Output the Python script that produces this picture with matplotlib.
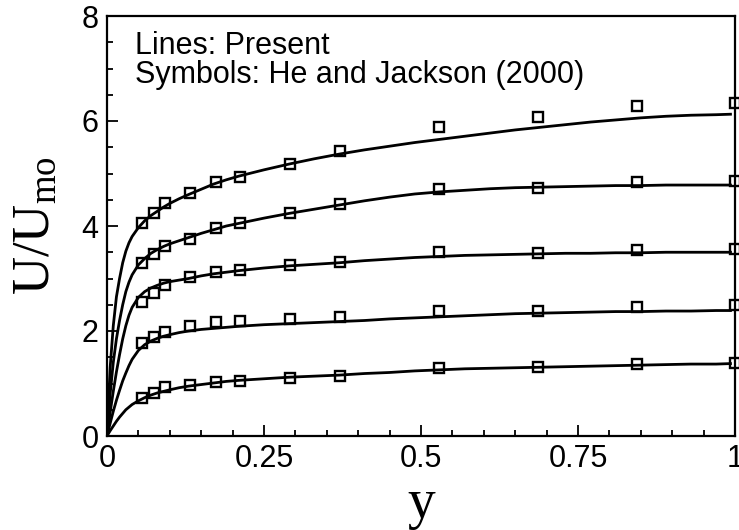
import matplotlib
matplotlib.use("Agg")
import matplotlib.pyplot as plt
from matplotlib.ticker import MultipleLocator, FuncFormatter

# ---- data -------------------------------------------------------------
# experimental (He and Jackson, 2000) radial positions
x_exp = [0.055, 0.075, 0.093, 0.132, 0.173, 0.212, 0.292, 0.371, 0.529, 0.686, 0.844, 1.0]
exp1 = [0.72, 0.81, 0.93, 0.97, 1.02, 1.05, 1.11, 1.14, 1.29, 1.32, 1.37, 1.40]
exp2 = [1.77, 1.89, 1.99, 2.10, 2.17, 2.19, 2.23, 2.27, 2.39, 2.39, 2.46, 2.50]
exp3 = [2.56, 2.73, 2.88, 3.02, 3.13, 3.17, 3.26, 3.31, 3.50, 3.48, 3.54, 3.56]
exp4 = [3.29, 3.47, 3.61, 3.75, 3.96, 4.06, 4.24, 4.42, 4.70, 4.73, 4.84, 4.86]
exp5 = [4.06, 4.24, 4.43, 4.62, 4.84, 4.94, 5.19, 5.42, 5.89, 6.07, 6.29, 6.35]

# present computation (lines)
x_line = [0, 0.005, 0.01, 0.015, 0.02, 0.025, 0.03, 0.035, 0.04, 0.05, 0.06, 0.07,
          0.08, 0.09, 0.1, 0.115, 0.13, 0.15, 0.17, 0.19, 0.21, 0.25, 0.29, 0.33,
          0.37, 0.41, 0.45, 0.49, 0.53, 0.57, 0.61, 0.65, 0.69, 0.73, 0.77, 0.81,
          0.85, 0.89, 0.93, 0.97, 0.995]
line1 = [0, 0.10, 0.19, 0.28, 0.36, 0.43, 0.50, 0.55, 0.60, 0.67, 0.73, 0.78,
         0.82, 0.85, 0.88, 0.92, 0.95, 0.98, 1.01, 1.04, 1.06, 1.09, 1.12, 1.14,
         1.16, 1.19, 1.21, 1.24, 1.26, 1.28, 1.29, 1.30, 1.31, 1.32, 1.33, 1.34,
         1.35, 1.36, 1.37, 1.37, 1.38]
line2 = [0, 0.24, 0.47, 0.68, 0.87, 1.05, 1.20, 1.34, 1.46, 1.63, 1.74, 1.81,
         1.86, 1.90, 1.93, 1.97, 2.00, 2.03, 2.05, 2.07, 2.09, 2.12, 2.14, 2.16,
         2.18, 2.20, 2.23, 2.25, 2.27, 2.29, 2.31, 2.33, 2.34, 2.35, 2.36, 2.37,
         2.37, 2.38, 2.38, 2.39, 2.39]
line3 = [0, 0.45, 0.85, 1.22, 1.55, 1.85, 2.10, 2.30, 2.45, 2.64, 2.75, 2.82,
         2.87, 2.91, 2.94, 2.97, 3.00, 3.05, 3.09, 3.12, 3.15, 3.20, 3.24, 3.27,
         3.30, 3.34, 3.37, 3.40, 3.42, 3.44, 3.45, 3.46, 3.47, 3.48, 3.48, 3.49,
         3.49, 3.50, 3.50, 3.50, 3.50]
line4 = [0, 0.80, 1.40, 1.85, 2.20, 2.50, 2.75, 2.93, 3.07, 3.26, 3.38, 3.48,
         3.55, 3.61, 3.66, 3.72, 3.78, 3.86, 3.93, 4.00, 4.05, 4.15, 4.24, 4.32,
         4.40, 4.48, 4.55, 4.61, 4.65, 4.68, 4.71, 4.73, 4.74, 4.75, 4.76, 4.77,
         4.77, 4.78, 4.78, 4.78, 4.78]
line5 = [0, 1.30, 2.10, 2.65, 3.00, 3.30, 3.52, 3.68, 3.80, 3.97, 4.10, 4.20,
         4.28, 4.36, 4.43, 4.52, 4.60, 4.70, 4.80, 4.88, 4.95, 5.07, 5.18, 5.28,
         5.37, 5.45, 5.52, 5.59, 5.65, 5.71, 5.77, 5.83, 5.88, 5.93, 5.98, 6.02,
         6.06, 6.09, 6.11, 6.12, 6.13]

x_ticks = [0, 0.25, 0.5, 0.75, 1.0]
y_ticks = [0, 2, 4, 6, 8]

# ---- figure -----------------------------------------------------------
plt.rcParams['mathtext.fontset'] = 'custom'
plt.rcParams['mathtext.rm'] = 'Liberation Serif'
plt.rcParams['mathtext.it'] = 'Liberation Serif:italic'

fig = plt.figure(figsize=(7.39, 5.30), dpi=100)
ax = fig.add_axes([107/739, (530-436)/530, 628/739, 420/530])

for ln in (line1, line2, line3, line4, line5):
    ax.plot(x_line, ln, color='black', lw=2.0, solid_capstyle='butt',
            solid_joinstyle='round', zorder=2)
for ex in (exp1, exp2, exp3, exp4, exp5):
    ax.plot(x_exp, ex, linestyle='none', marker='s', ms=6.5, mew=1.7,
            mfc='none', mec='black', zorder=3, clip_on=False)

ax.set_xlim(0, 1)
ax.set_ylim(0, 8)
ax.set_xticks(x_ticks)
ax.set_yticks(y_ticks)
ax.xaxis.set_minor_locator(MultipleLocator(0.05))
ax.yaxis.set_minor_locator(MultipleLocator(0.5))
fmt = FuncFormatter(lambda v, p: f"{v:g}")
ax.xaxis.set_major_formatter(fmt)
ax.yaxis.set_major_formatter(fmt)

ax.tick_params(which='both', direction='in', top=False, right=False, width=1.3,
               labelsize=22, colors='black')
ax.tick_params(which='major', length=8, pad=6)
ax.tick_params(which='minor', length=4)
for lab in ax.get_xticklabels() + ax.get_yticklabels():
    lab.set_fontfamily('Liberation Sans')
for s in ax.spines.values():
    s.set_linewidth(1.6)

ax.set_xlabel('y', fontsize=40, family='Liberation Serif')
ax.set_ylabel(r'$\mathrm{U/U_{mo}}$', fontsize=38)
ax.xaxis.set_label_coords(0.5, -0.10)
ax.yaxis.set_label_coords(-0.075, 0.5)

ax.text(0.0446, 0.9095, 'Lines: Present', transform=ax.transAxes, fontsize=22,
        family='Liberation Sans', va='baseline', ha='left')
ax.text(0.0446, 0.8405, 'Symbols: He and Jackson (2000)', transform=ax.transAxes,
        fontsize=22, family='Liberation Sans', va='baseline', ha='left')

fig.savefig('out.png', dpi=100)
